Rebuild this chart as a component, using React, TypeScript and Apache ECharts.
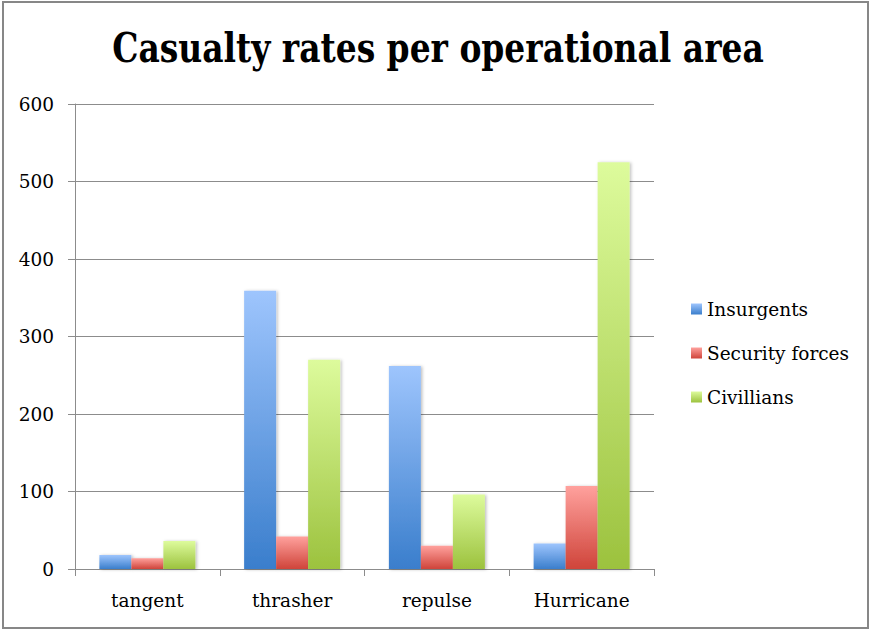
import React, { useEffect, useRef } from "react";
import * as echarts from "echarts";

// Casualty figures per operational area
const categories = ["tangent", "thrasher", "repulse", "Hurricane"];
const insurgents = [18, 359, 262, 33];
const securityForces = [14, 42, 30, 107];
const civillians = [36, 270, 96, 525];

const seriesNames = ["Insurgents", "Security forces", "Civillians"];
const titleText = "Casualty rates per operational area";

const FONT = "'DejaVu Serif', serif";

function grad(top: string, bottom: string) {
  return new echarts.graphic.LinearGradient(0, 0, 0, 1, [
    { offset: 0, color: top },
    { offset: 1, color: bottom },
  ]);
}

function measure(text: string, font: string): number {
  const c = document.createElement("canvas");
  const ctx = c.getContext("2d");
  if (!ctx) return 0;
  ctx.font = font;
  return ctx.measureText(text).width;
}

export default function App() {
  const ref = useRef<HTMLDivElement>(null);

  useEffect(() => {
    document.body.style.margin = "0";
    if (!ref.current) return;
    const chart = echarts.init(ref.current, undefined, { renderer: "svg" });

    const titleSize = 41;
    const titleFont = `bold ${titleSize}px 'DejaVu Serif'`;
    const measured = measure(titleText, titleFont);
    const titleScale = measured > 0 ? 652 / measured : 0.8;

    const barStyle = (top: string, bottom: string) => ({
      color: grad(top, bottom),
      shadowColor: "rgba(0,0,0,0.25)",
      shadowBlur: 3,
      shadowOffsetX: 1.5,
      shadowOffsetY: 0.5,
    });

    const colors = [
      ["#9ec5fd", "#3a7ecc"],
      ["#ffa19d", "#cf443a"],
      ["#ddfb9c", "#9cc23e"],
    ];
    const values = [insurgents, securityForces, civillians];

    chart.setOption({
      animation: false,
      backgroundColor: "#ffffff",
      textStyle: { fontFamily: FONT },
      graphic: [
        {
          type: "rect",
          shape: { x: 3, y: 2, width: 865, height: 626 },
          style: { fill: "none", stroke: "#878787", lineWidth: 2 },
          silent: true,
        },
        {
          type: "text",
          x: 438,
          y: 48,
          scaleX: titleScale,
          style: {
            text: titleText,
            x: 0,
            y: 0,
            font: titleFont,
            fill: "#000000",
            align: "center",
            verticalAlign: "middle",
          },
        },
      ],
      legend: {
        orient: "vertical",
        left: 686,
        top: 294,
        itemWidth: 11,
        itemHeight: 11,
        itemGap: 24,
        icon: "rect",
        data: seriesNames,
        textStyle: {
          fontFamily: FONT,
          fontSize: 18.5,
          color: "#000000",
          lineHeight: 20,
        },
      },
      grid: { left: 75, right: 217, top: 104, bottom: 61, containLabel: false },
      xAxis: {
        type: "category",
        data: categories,
        axisLine: { lineStyle: { color: "#8c8c8c", width: 1 } },
        axisTick: { show: true, length: 7, lineStyle: { color: "#8c8c8c" } },
        axisLabel: {
          fontFamily: FONT,
          fontSize: 18.5,
          color: "#000000",
          margin: 22,
        },
      },
      yAxis: {
        type: "value",
        min: 0,
        max: 600,
        interval: 100,
        axisLine: { show: true, lineStyle: { color: "#8c8c8c", width: 1 } },
        axisTick: { show: true, length: 7, lineStyle: { color: "#8c8c8c" } },
        splitLine: { lineStyle: { color: "#8c8c8c", width: 1 } },
        axisLabel: {
          fontFamily: FONT,
          fontSize: 18.5,
          color: "#000000",
          margin: 21,
        },
      },
      series: seriesNames.map((name, i) => ({
        name,
        type: "bar",
        data: values[i],
        barWidth: 32,
        barGap: "0%",
        itemStyle: barStyle(colors[i][0], colors[i][1]),
      })),
    });

    return () => chart.dispose();
  }, []);

  return <div ref={ref} style={{ width: 871, height: 630 }} />;
}
